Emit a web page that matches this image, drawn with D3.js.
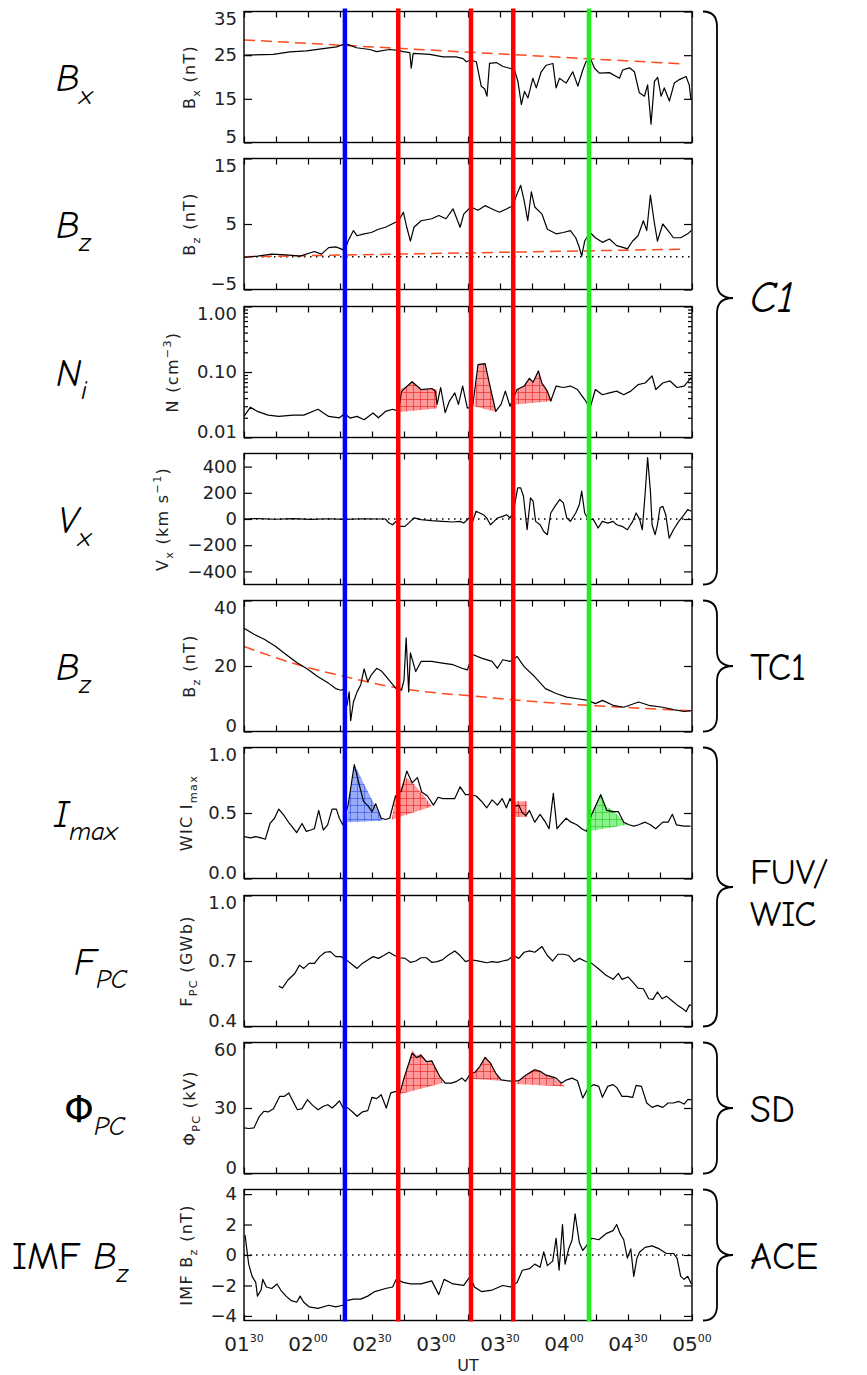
<!DOCTYPE html>
<meta charset="utf-8">
<script src="https://cdnjs.cloudflare.com/ajax/libs/d3/7.8.5/d3.min.js"></script>
<style>
  body { margin: 0; background: #fff; }
</style>
<div id="chart"></div>
<script>

  // time is in minutes after 01:30 UT
  const xTicks = d3.range(0, 211, 15)
  const xLabelAt = [0, 30, 60, 90, 120, 150, 180, 210]
  const xLabelHour = ['01', '02', '02', '03', '03', '04', '04', '05']
  const xLabelMin = ['30', '00', '30', '00', '30', '00', '30', '00']

  // onset times marked by the vertical lines
  const eventTimes = [47.3, 72.3, 106.4, 126.2, 161.7]
  const eventKinds = ['blue', 'red', 'red', 'red', 'green']

  // Cluster C1 Bx
  const bxC1 = [[0, 25.0], [13.7, 25.2], [21.5, 25.75], [29.3, 26.0], [37.1, 26.5], [43.4, 26.9], [47.3, 27.6],
    [49.6, 27.3], [52.7, 26.7], [59.0, 26.3], [62.1, 25.8], [68.3, 26.3], [72.2, 26.1], [74.6, 25.8], [77.7, 25.6],
    [78.4, 22.0], [79.3, 25.4], [87.1, 25.2], [93.3, 24.6], [99.5, 24.6], [102.7, 24.2], [104.2, 23.5], [106.2, 23.9],
    [108.9, 23.5], [111.2, 17.9], [112.8, 17.3], [113.9, 15.6], [115.1, 23.1], [118.3, 23.3], [121.4, 22.4],
    [124.5, 22.0], [126.8, 21.6], [128.4, 19.0], [130.0, 13.7], [131.5, 16.7], [133.1, 15.2], [135.4, 19.7],
    [137.0, 17.5], [139.3, 21.2], [141.7, 22.7], [144.8, 23.1], [146.3, 17.5], [147.9, 19.7], [151.0, 18.6],
    [154.1, 21.2], [156.5, 17.9], [158.8, 21.6], [160.4, 23.6], [162.7, 23.9], [164.3, 22.0], [166.6, 20.9],
    [171.3, 21.0], [176.0, 19.7], [177.5, 21.6], [180.7, 22.1], [183.0, 21.2], [185.3, 16.4], [187.7, 15.6],
    [189.2, 18.2], [190.8, 9.2], [192.4, 19.0], [193.9, 19.9], [195.5, 15.6], [197.0, 17.5], [199.4, 14.5],
    [201.7, 18.6], [204.1, 19.4], [207.2, 20.1], [208.7, 18.2], [209.5, 14.8]]
  const bxC1Fit = [[0, 28.5], [205.6, 23.0]]

  // Cluster C1 Bz
  const bzC1 = [[0, -0.1], [6.3, 0.1], [13, 0.4], [19.7, 0.3], [26.3, 0.1], [33, 0.8], [36.3, 0.4], [39.7, 1.4],
    [43, 1.5], [45.5, 1.2], [47.2, 0.9], [48.8, 2.4], [51.3, 4.0], [53, 3.2], [56.3, 3.5], [59.7, 3.7], [63, 4.2],
    [66.3, 4.5], [71.3, 5.3], [72.5, 5.5], [74.7, 6.8], [76.3, 4.5], [78, 2.4], [79.7, 4.5], [83, 5.5], [88, 5.8],
    [91.3, 6.3], [94.7, 5.8], [98, 7.3], [101.3, 4.5], [103, 6.5], [106.3, 7.6], [109.7, 7.1], [113, 7.8],
    [116.3, 7.3], [119.7, 6.8], [123, 7.3], [126, 7.8], [128, 9.6], [129.7, 10.9], [131.3, 8.6], [133, 5.5],
    [134.7, 9.9], [136.3, 7.6], [139.7, 6.5], [142.2, 4.2], [146.3, 3.5], [149.7, 3.7], [153, 4.0], [155.5, 2.9],
    [157.2, 1.4], [158.3, 0.1], [159.7, 2.4], [162.2, 3.7], [164.7, 2.9], [168, 2.2], [171.3, 2.7], [174.7, 1.7],
    [178, 1.4], [179.7, 1.2], [182.2, 2.4], [184.7, 3.2], [187.2, 5.5], [188.8, 4.0], [190.5, 9.4], [192.2, 5.5],
    [193.8, 2.4], [196.3, 5.0], [198.8, 4.0], [201.3, 2.9], [204.7, 2.9], [208, 3.5], [209.7, 4.0]]
  const bzC1Fit = [[0, 0], [205.5, 1.15]]

  // Cluster C1 ion density
  const nC1 = [[0, 0.021], [3, 0.029], [6.3, 0.025], [11.3, 0.022], [16.3, 0.021], [23, 0.022], [28, 0.022],
    [34.7, 0.027], [39.7, 0.021], [44.7, 0.020], [47.2, 0.023], [49.7, 0.0198], [53, 0.021], [56.3, 0.0187],
    [60.5, 0.0237], [63, 0.020], [66.3, 0.025], [69.7, 0.027], [72.5, 0.025], [73.8, 0.050], [74.7, 0.054],
    [78.8, 0.071], [83, 0.054], [88, 0.056], [89.7, 0.051], [90.5, 0.032], [92.2, 0.058], [94.3, 0.024],
    [96.3, 0.036], [98.8, 0.048], [100.5, 0.032], [102.5, 0.061], [104.7, 0.028], [107.2, 0.030], [109.7, 0.13],
    [113, 0.134], [115.5, 0.057], [118, 0.025], [120.5, 0.032], [122.5, 0.051], [124.7, 0.030], [128, 0.054],
    [131.3, 0.061], [133.8, 0.080], [135.5, 0.070], [138, 0.104], [139.7, 0.067], [142.2, 0.051], [143.8, 0.036],
    [146.3, 0.061], [149.7, 0.058], [153, 0.061], [156.3, 0.054], [159.7, 0.038], [162.2, 0.028], [164.7, 0.054],
    [168, 0.045], [171.3, 0.048], [174.7, 0.051], [178, 0.045], [181.3, 0.051], [184.7, 0.064], [188, 0.068],
    [191.3, 0.087], [193, 0.054], [196.3, 0.068], [199.7, 0.073], [203, 0.058], [206.3, 0.061], [209.7, 0.082]]
  const nShade = [
    [[73, 0.0245], [73.5, 0.056], [76, 0.058], [78.8, 0.071], [83, 0.054], [88, 0.056], [90.5, 0.054], [90.5, 0.0276]],
    [[108, 0.030], [109.7, 0.134], [113, 0.134], [115.5, 0.057], [118.3, 0.0245]],
    [[127.2, 0.032], [128, 0.054], [131.3, 0.061], [133.8, 0.080], [135.5, 0.070], [138, 0.104], [139.7, 0.068],
      [142.2, 0.051], [144.7, 0.036]]
  ]

  // Cluster C1 Vx
  const vxC1 = [[0, 0], [6.3, 3], [14.7, -2], [23, 3], [31.3, -3], [39.7, 2], [47.2, -3], [56.3, 2], [63, 0],
    [66.3, 0], [68, -31], [69.7, -44], [71.3, -18], [73, -56], [75.5, -56], [78, -18], [79.7, 8], [83, -5],
    [88, -13], [93, -18], [98, -23], [101.3, -18], [103, -31], [105.5, 8], [107.2, -18], [108.8, 59], [110.5, 46],
    [112.2, 33], [113.8, 8], [115.5, -44], [117.2, -18], [118.8, 8], [121.3, 20], [123, 33], [124.7, 8],
    [126.3, 59], [128.3, 238], [129.7, 238], [131, 174], [132.7, -82], [134.3, 162], [135.5, 136], [136.7, -18],
    [138.8, -44], [140.5, -95], [142.2, -120], [143.8, 46], [146.3, 110], [148, 149], [149.7, 123], [151.3, 8],
    [153, -18], [155.5, 46], [157.2, 110], [158.3, 213], [159.7, 46], [161.3, 0], [163.8, -5], [166, -69],
    [168, -18], [170.5, -31], [173, -18], [174.7, -44], [177.2, -56], [179.7, -82], [182.2, -18], [183.8, 46],
    [185.5, -5], [186.7, -82], [188, 187], [189.2, 469], [190.5, 213], [191.3, -44], [192.7, -120], [193.8, -44],
    [195, 85], [196.3, 97], [197.7, 33], [199.3, -146], [201.3, -82], [203.8, -18], [206.3, 33], [208, 72],
    [209.7, 59]]

  // TC1 Bz
  const bzTC1 = [[0, 31.5], [4.7, 29.7], [9.7, 28.1], [14.7, 26.0], [19.7, 23.5], [24.7, 21.1], [29.7, 19.1],
    [34.7, 16.7], [39.7, 14.7], [43, 13.1], [45.5, 12.6], [47.2, 13.1], [48.3, 8.0], [49.3, 12.1], [50, 3.3],
    [51.3, 9.0], [53, 12.1], [54.7, 14.2], [56.3, 19.1], [58, 15.2], [59.7, 17.3], [62.2, 19.3], [64.7, 18.3],
    [68, 15.7], [71.3, 13.1], [73.8, 12.6], [75, 15.7], [76, 28.6], [77.2, 12.1], [78, 24.0], [80.5, 18.3],
    [83, 21.4], [88, 21.4], [93, 20.9], [98, 20.4], [102.2, 19.3], [104.7, 18.8], [107.2, 23.5], [111.3, 22.4],
    [116.3, 21.4], [118.8, 19.3], [121.3, 21.9], [124.7, 21.4], [128, 22.9], [131.3, 19.8], [136.3, 16.7],
    [141.3, 13.1], [146.3, 11.6], [151.3, 10.5], [156.3, 10.0], [161.3, 9.5], [164.7, 8.5], [168, 9.5], [173, 8.0],
    [178, 7.4], [185, 9.0], [189.7, 8.0], [196.3, 7.4], [201.3, 6.7], [206.3, 6.1], [209.7, 6.4]]
  const bzTC1Fit = [[0, 26.0], [15, 22.5], [30, 19.5], [47, 16.8], [60, 14.8], [75, 13.0], [90, 11.8],
    [106, 10.9], [126, 9.7], [145, 8.7], [161, 8.0], [180, 7.3], [195, 6.8], [210, 6.3]]

  // FUV/WIC maximum intensity
  const wicImax = [[0, 0.32], [3, 0.31], [5.5, 0.32], [8, 0.31], [10, 0.30], [12.2, 0.42], [14.3, 0.46],
    [16.3, 0.53], [18.8, 0.48], [21.3, 0.42], [24.7, 0.35], [27.2, 0.42], [29.2, 0.36], [31.3, 0.37], [33, 0.38],
    [35, 0.52], [37.2, 0.37], [39.2, 0.41], [41.3, 0.53], [43.3, 0.53], [44.7, 0.46], [46.3, 0.41], [48.8, 0.56],
    [51.7, 0.87], [53.8, 0.73], [56, 0.59], [58.3, 0.55], [60, 0.51], [61.7, 0.57], [64.3, 0.46], [66.3, 0.45],
    [68.3, 0.46], [71, 0.63], [73.8, 0.67], [76.3, 0.82], [78.8, 0.73], [81.3, 0.77], [83.3, 0.66], [86, 0.63],
    [88.8, 0.56], [91, 0.62], [93.3, 0.61], [96, 0.61], [98.8, 0.61], [101.3, 0.70], [103.8, 0.64], [106, 0.64],
    [108.8, 0.63], [111.3, 0.59], [113.8, 0.54], [116.3, 0.60], [118.8, 0.56], [121, 0.61], [123, 0.54],
    [124.7, 0.61], [126.7, 0.55], [128.8, 0.56], [130.5, 0.50], [132.2, 0.48], [133.8, 0.52], [136.3, 0.43],
    [138.8, 0.49], [141.3, 0.43], [143, 0.38], [145, 0.65], [146.7, 0.38], [148.8, 0.42], [151, 0.46],
    [153.3, 0.43], [156, 0.41], [158.3, 0.38], [160.5, 0.36], [163, 0.49], [167.2, 0.64], [170, 0.52],
    [173, 0.51], [175.5, 0.51], [178, 0.43], [180.5, 0.41], [182.7, 0.40], [185, 0.41], [188, 0.43],
    [190.5, 0.41], [193, 0.38], [196.3, 0.43], [198.8, 0.43], [200.8, 0.49], [202.7, 0.41], [206.3, 0.40],
    [209.3, 0.40]]
  const wicShade = [
    [[48.3, 0.43], [49, 0.56], [51.7, 0.87], [61.3, 0.56], [65, 0.44]],
    [[69.3, 0.45], [71, 0.63], [76.3, 0.77], [79.7, 0.72], [84, 0.64], [88, 0.55]],
    [[126.7, 0.59], [132.7, 0.59], [132.7, 0.47], [126.7, 0.47]],
    [[161.7, 0.36], [163, 0.49], [167.2, 0.65], [170, 0.55], [173, 0.52], [179.7, 0.41]]
  ]
  const wicShadeKinds = ['blue', 'red', 'red', 'green']

  // polar cap flux
  const fpc = [[16.3, 0.585], [18, 0.576], [20.5, 0.612], [23.8, 0.643], [26, 0.681], [28, 0.666], [30.5, 0.689],
    [33, 0.689], [35.5, 0.720], [38, 0.740], [40.5, 0.743], [43, 0.720], [45.5, 0.720], [48, 0.705], [50.5, 0.685],
    [53, 0.666], [55.5, 0.689], [58, 0.705], [60.5, 0.720], [63, 0.712], [65.5, 0.725], [68, 0.740], [70.5, 0.725],
    [73, 0.715], [75.5, 0.712], [78, 0.694], [80.5, 0.700], [83, 0.715], [85.5, 0.715], [88, 0.694], [90.5, 0.697],
    [93, 0.705], [95.5, 0.725], [98.8, 0.746], [101.3, 0.725], [103.8, 0.697], [106.3, 0.705], [108.8, 0.702],
    [111.3, 0.697], [113.8, 0.692], [116.3, 0.697], [118.8, 0.694], [121.3, 0.700], [123.8, 0.705], [126.3, 0.725],
    [128.8, 0.712], [131.3, 0.740], [133.8, 0.746], [136.3, 0.740], [139.7, 0.766], [142.2, 0.725], [144.7, 0.700],
    [147.2, 0.731], [149.7, 0.731], [152.2, 0.725], [154.7, 0.697], [157.2, 0.712], [159.7, 0.700], [163, 0.689],
    [166.3, 0.663], [169.7, 0.635], [173, 0.616], [175.5, 0.643], [177.2, 0.616], [180, 0.627], [182.2, 0.604],
    [184.7, 0.576], [187.2, 0.573], [189.7, 0.527], [191.7, 0.524], [193.8, 0.558], [196, 0.527], [198, 0.539],
    [200.5, 0.519], [203, 0.499], [205.5, 0.483], [207.2, 0.468], [208.8, 0.499], [209.7, 0.496]]

  // SuperDARN cross polar cap potential
  const phiPC = [[0, 20.9], [2.2, 20.6], [4.7, 20.9], [7.2, 26.2], [9.3, 28.5], [11.3, 28.2], [13.8, 29.7],
    [16.7, 35.3], [18.8, 35.3], [21, 36.9], [23, 33.0], [25, 29.2], [27.2, 29.7], [29.7, 33.8], [32.2, 31.2],
    [34.7, 29.2], [37.2, 30.8], [39.3, 31.5], [41.3, 30.0], [43, 31.5], [44.7, 33.3], [46.3, 30.3], [48.3, 30.3],
    [50.5, 28.5], [53, 26.2], [55.5, 28.2], [58, 28.8], [60, 34.9], [62.2, 34.3], [64.3, 36.1], [66.7, 30.0],
    [68.8, 36.9], [71.3, 37.6], [73, 36.4], [75, 43.7], [78.8, 55.1], [81, 53.1], [83, 54.1], [85.5, 51.3],
    [88, 51.6], [89.7, 48.3], [91.7, 44.5], [94.3, 41.4], [97.2, 41.4], [99.7, 42.2], [102.2, 43.7], [103.8, 42.2],
    [106, 45.5], [108.3, 46.4], [110.5, 49.0], [113, 53.1], [115.5, 50.6], [118, 46.0], [120.5, 42.9], [123, 42.5],
    [126, 42.2], [128.8, 42.5], [131.3, 44.5], [133.8, 46.0], [136.3, 47.5], [138.8, 46.8], [141.3, 45.2],
    [143.8, 44.5], [146.3, 43.7], [148.8, 41.4], [151.3, 42.9], [153.8, 43.7], [156.3, 42.5], [158.8, 34.6],
    [161.3, 39.1], [163.8, 40.7], [166.3, 39.9], [168, 34.9], [170.5, 39.9], [173, 40.7], [174.7, 39.4],
    [177.2, 35.3], [179.7, 35.3], [182.2, 34.9], [183.8, 40.4], [186.3, 39.9], [188.8, 32.3], [191.3, 30.3],
    [193.8, 31.2], [196.3, 30.3], [198.8, 32.3], [201.3, 32.3], [203.8, 33.0], [206.3, 31.8], [208, 33.8],
    [209.7, 33.8]]
  const phiShade = [
    [[73.5, 36.4], [75, 43.7], [78.8, 56.5], [81, 54.0], [83, 54.8], [85.5, 51.3], [88, 51.6], [89.7, 48.3],
      [91.7, 44.5], [93.3, 41.4]],
    [[106, 43.4], [108.3, 46.4], [110.5, 49.0], [113, 53.8], [115.5, 50.6], [118, 46.0], [120.5, 42.5]],
    [[127.2, 41.0], [131.3, 44.5], [133.8, 46.5], [136.3, 48.0], [138.8, 46.8], [141.3, 45.2], [143.8, 44.5],
      [146.3, 43.0], [150.5, 39.9]]
  ]

  // ACE IMF Bz
  const imfBz = [[0.5, 1.3], [1.3, 0.4], [2.2, -0.6], [3.8, -1.4], [5.5, -1.8], [6.3, -2.7], [8, -2.3],
    [8.8, -1.6], [10.5, -2.1], [13, -2.2], [15.5, -1.9], [17.2, -2.3], [19.7, -2.7], [22.2, -3.0], [24.7, -3.1],
    [26.3, -2.7], [28, -3.1], [30.5, -3.4], [34.7, -3.5], [39.7, -3.3], [43, -3.4], [46.3, -3.3], [48, -3.0],
    [51.3, -2.9], [54.7, -2.9], [58, -2.7], [61.3, -2.4], [66.3, -2.2], [69.7, -2.1], [71.3, -1.6], [74.7, -1.8],
    [78, -1.9], [83, -1.9], [88, -1.7], [91.3, -2.6], [93.8, -1.6], [98, -1.9], [103, -2.0], [106, -1.4],
    [108, -2.1], [111.3, -2.4], [116.3, -2.3], [121.3, -2.0], [124.7, -2.1], [128, -1.8], [130.5, -1.0],
    [133.8, -0.9], [136.3, -0.6], [138.8, -0.8], [140.5, 0.2], [142.2, -0.7], [144.7, -0.4], [146.3, 1.1],
    [147.7, -1.0], [149.3, 2.0], [150.5, -0.6], [152.2, 0.4], [153.8, 1.0], [155.2, 2.7], [157.2, 0.8],
    [158.8, 0.3], [160.5, 0.6], [163, 1.1], [166.3, 1.0], [169.7, 1.4], [173, 1.6], [174.7, 2.0], [176.3, 1.4],
    [178, 1.0], [179.7, -0.2], [181.3, 0.4], [182.7, -1.4], [184.2, -0.2], [185.5, 0.2], [188, 0.5], [191.3, 0.6],
    [194.7, 0.4], [198, 0.1], [201.3, 0.1], [203, -0.2], [204.7, -1.4], [206.3, -1.6], [208, -1.4], [209.7, -1.9]]

  // panel set-up, top to bottom
  const panels = [
    { data: bxC1, fit: bxC1Fit, domain: [5, 35], ticks: [5, 15, 25, 35], fmt: d3.format('d'),
      title: [['B'], ['x', 'sub'], [' (nT)']], titleX: 195,
      name: [['B', '', 'italic'], ['x', 'sub', 'italic']], nameX: 56 },
    { data: bzC1, fit: bzC1Fit, zero: true, domain: [-5, 15], ticks: [-5, 5, 15], fmt: d3.format('d'),
      title: [['B'], ['z', 'sub'], [' (nT)']], titleX: 195,
      name: [['B', '', 'italic'], ['z', 'sub', 'italic']], nameX: 56 },
    { data: nC1, shade: nShade, log: true, domain: [0.01, 1], ticks: [0.01, 0.1, 1], fmt: d3.format('.2f'),
      title: [['N (cm'], ['\u22123', 'sup'], [')']], titleX: 178,
      name: [['N', '', 'italic'], ['i', 'sub', 'italic']], nameX: 56 },
    { data: vxC1, zero: true, domain: [-500, 500], ticks: [-400, -200, 0, 200, 400], fmt: d3.format('d'),
      title: [['V'], ['x', 'sub'], [' (km s'], ['\u22121', 'sup'], [')']], titleX: 168,
      name: [['V', '', 'italic'], ['x', 'sub', 'italic']], nameX: 58 },
    { data: bzTC1, fit: bzTC1Fit, domain: [0, 40], ticks: [0, 20, 40], fmt: d3.format('d'),
      title: [['B'], ['z', 'sub'], [' (nT)']], titleX: 195,
      name: [['B', '', 'italic'], ['z', 'sub', 'italic']], nameX: 56 },
    { data: wicImax, shade: wicShade, shadeKinds: wicShadeKinds, domain: [0, 1], ticks: [0, 0.5, 1], fmt: d3.format('.1f'),
      title: [['WIC I'], ['max', 'sub']], titleX: 192,
      name: [['I', '', 'italic'], ['max', 'sub', 'italic']], nameX: 54 },
    { data: fpc, domain: [0.4, 1], ticks: [0.4, 0.7, 1], fmt: d3.format('.1f'),
      title: [['F'], ['PC', 'sub'], [' (GWb)']], titleX: 192,
      name: [['F', '', 'italic'], ['PC', 'sub', 'italic']], nameX: 74 },
    { data: phiPC, shade: phiShade, domain: [0, 60], ticks: [0, 30, 60], fmt: d3.format('d'),
      title: [['\u03a6'], ['PC', 'sub'], [' (kV)']], titleX: 195,
      name: [['\u03a6', '', ''], ['PC', 'sub', 'italic']], nameX: 64 },
    { data: imfBz, zero: true, domain: [-4.3, 4.3], ticks: [-4, -2, 0, 2, 4], fmt: d3.format('d'),
      title: [['IMF B'], ['z', 'sub'], [' (nT)']], titleX: 192,
      name: [['IMF ', '', ''], ['B', '', 'italic'], ['z', 'sub', 'italic']], nameX: 12 }
  ]

  // right-hand groupings: first and last panel index
  const groups = [
    { label: ['C1'], from: 0, to: 3 },
    { label: ['TC1'], from: 4, to: 4 },
    { label: ['FUV/', 'WIC'], from: 5, to: 6 },
    { label: ['SD'], from: 7, to: 7 },
    { label: ['ACE'], from: 8, to: 8 }
  ]

  const colors = { blue: '#0000ff', red: '#ff0000', green: '#20ec20' }
  const fitColor = '#ff4a1e'
  const labelFont = "'Comic Sans MS', 'Comic Neue', 'DejaVu Sans', sans-serif"

  const width = 867
  const height = 1375
  const panelH = 131
  const panelTop = i => Math.round(11 + i * 147.25) + 0.5

  const x = d3.scaleLinear().domain([0, 210]).range([244, 692])

  const svg = d3.select('#chart').append('svg')
    .attr('width', width)
    .attr('height', height)
    .style('font-family', "'DejaVu Sans', sans-serif")
  const defs = svg.append('defs')

  // hatched fills
  const hatch = { red: ['#ff7f7f', '#e00000'], blue: ['#7d96f7', '#1838e0'], green: ['#6ff06f', '#10b810'] }
  Object.entries(hatch).forEach(([k, [bg, ln]]) => {
    const pat = defs.append('pattern').attr('id', 'hatch-' + k)
      .attr('width', 7).attr('height', 7).attr('patternUnits', 'userSpaceOnUse')
    pat.append('rect').attr('width', 7).attr('height', 7).attr('fill', bg).attr('opacity', 0.8)
    pat.append('path').attr('d', 'M0,0.5H7M0.5,0V7').attr('stroke', ln).attr('stroke-width', 0.7).attr('opacity', 0.7)
  })

  // text with sub/superscript parts
  function richText(sel, parts, size, subDrop) {
    let shift = 0
    parts.forEach(([t, pos, style]) => {
      const target = pos === 'sub' ? size * (subDrop || 0.3) : pos === 'sup' ? -size * 0.42 : 0
      sel.append('tspan').text(t)
        .attr('dy', target - shift)
        .attr('font-size', pos ? size * 0.7 : size)
        .attr('font-style', style || null)
      shift = target
    })
  }

  panels.forEach((p, i) => {
    const top = panelTop(i)
    const bot = top + panelH
    const y = (p.log ? d3.scaleLog() : d3.scaleLinear()).domain(p.domain).range([bot, top])
    const line = d3.line().x(d => x(d[0])).y(d => y(d[1]))
    const g = svg.append('g')

    defs.append('clipPath').attr('id', 'clip' + i).append('rect')
      .attr('x', x.range()[0]).attr('y', top).attr('width', x.range()[1] - x.range()[0]).attr('height', panelH)
    const plot = g.append('g').attr('clip-path', 'url(#clip' + i + ')')

    if (p.shade) {
      p.shade.forEach((poly, k) => {
        const kind = p.shadeKinds ? p.shadeKinds[k] : 'red'
        plot.append('path').attr('d', line(poly) + 'Z').attr('fill', 'url(#hatch-' + kind + ')')
      })
    }
    if (p.zero) {
      plot.append('line').attr('x1', x.range()[0]).attr('x2', x.range()[1])
        .attr('y1', y(0)).attr('y2', y(0))
        .attr('stroke', '#000').attr('stroke-width', 1.3).attr('stroke-dasharray', '1.5,4.5')
    }
    if (p.fit) {
      plot.append('path').datum(p.fit).attr('d', line.curve(d3.curveMonotoneX))
        .attr('fill', 'none').attr('stroke', fitColor).attr('stroke-width', 1.5).attr('stroke-dasharray', '11,6')
      line.curve(d3.curveLinear)
    }
    plot.append('path').datum(p.data).attr('d', line)
      .attr('fill', 'none').attr('stroke', '#000').attr('stroke-width', 1.2).attr('stroke-linejoin', 'round')

    // axes: ticks inside on all four sides
    const [dmin, dmax] = p.domain
    const ay = g.append('g').attr('transform', 'translate(' + x.range()[0] + ',0)')
      .call(d3.axisLeft(y).tickValues(p.ticks).tickSize(-8).tickSizeOuter(0).tickPadding(7).tickFormat(p.fmt))
    ay.selectAll('.tick text')
      .attr('transform', d => d === dmax ? 'translate(0,7)' : d === dmin ? 'translate(0,-6)' : null)
    g.append('g').attr('transform', 'translate(' + x.range()[1] + ',0)')
      .call(d3.axisRight(y).tickValues(p.ticks).tickSize(-8).tickSizeOuter(0).tickFormat(''))
    if (p.log) {
      const minor = [2, 3, 4, 5, 6, 7, 8, 9].flatMap(m => [m * 0.01, m * 0.1])
      g.append('g').attr('transform', 'translate(' + x.range()[0] + ',0)')
        .call(d3.axisLeft(y).tickValues(minor).tickSize(-4).tickSizeOuter(0).tickFormat(''))
      g.append('g').attr('transform', 'translate(' + x.range()[1] + ',0)')
        .call(d3.axisRight(y).tickValues(minor).tickSize(-4).tickSizeOuter(0).tickFormat(''))
    }
    g.append('g').attr('transform', 'translate(0,' + top + ')')
      .call(d3.axisTop(x).tickValues(xTicks).tickSize(-6).tickSizeOuter(0).tickFormat(''))
    g.append('g').attr('transform', 'translate(0,' + bot + ')')
      .call(d3.axisBottom(x).tickValues(xTicks).tickSize(-6).tickSizeOuter(0).tickFormat(''))
    g.selectAll('.domain').remove()
    g.selectAll('.tick line').attr('stroke-width', 1.2)
    g.selectAll('.tick text').attr('font-size', 18).attr('font-family', "'DejaVu Sans', sans-serif").attr('fill', '#222')

    g.append('rect').attr('x', x.range()[0]).attr('y', top)
      .attr('width', x.range()[1] - x.range()[0]).attr('height', panelH)
      .attr('fill', 'none').attr('stroke', '#000').attr('stroke-width', 1.4)

    // rotated axis title
    const t = g.append('text')
      .attr('transform', 'translate(' + p.titleX + ',' + (top + panelH / 2) + ') rotate(-90)')
      .attr('text-anchor', 'middle').attr('fill', '#222').attr('letter-spacing', 1.3)
    richText(t, p.title, 16)

    // big panel name on the left
    const n = g.append('text').attr('x', p.nameX).attr('y', top + panelH / 2 + 14)
      .attr('font-family', labelFont).attr('fill', '#000')
    richText(n, p.name, 38, 0.33)
  })

  // time labels under the bottom panel
  const bottom = panelTop(panels.length - 1) + panelH
  xLabelAt.forEach((m, k) => {
    const t = svg.append('text').attr('x', x(m)).attr('y', bottom + 30)
      .attr('text-anchor', 'middle').attr('fill', '#222')
    t.append('tspan').text(xLabelHour[k]).attr('font-size', 20)
    t.append('tspan').text(xLabelMin[k]).attr('font-size', 11).attr('dy', -9)
  })
  svg.append('text').attr('x', (x.range()[0] + x.range()[1]) / 2).attr('y', bottom + 50)
    .attr('text-anchor', 'middle').attr('font-size', 16).attr('fill', '#222').text('UT')

  // onset lines across all panels
  eventTimes.forEach((tm, k) => {
    svg.append('line').attr('x1', x(tm)).attr('x2', x(tm))
      .attr('y1', panelTop(0) - 3).attr('y2', bottom + 1)
      .attr('stroke', colors[eventKinds[k]]).attr('stroke-width', 4.5)
  })

  // curly braces and instrument labels
  function brace(y0, y1) {
    const ym = (y0 + y1) / 2
    const xa = 703, xb = 717, xt = 733, r = 15
    return `M${xa},${y0} Q${xb},${y0} ${xb},${y0 + r} L${xb},${ym - r} Q${xb},${ym} ${xt},${ym}` +
      ` Q${xb},${ym} ${xb},${ym + r} L${xb},${y1 - r} Q${xb},${y1} ${xa},${y1}`
  }
  groups.forEach(gr => {
    const y0 = panelTop(gr.from)
    const y1 = panelTop(gr.to) + panelH
    const ym = (y0 + y1) / 2
    svg.append('path').attr('d', brace(y0, y1))
      .attr('fill', 'none').attr('stroke', '#000').attr('stroke-width', 1.8)
    const big = gr.label[0] === 'C1'
    const two = gr.label.length > 1
    gr.label.forEach((s, k) => {
      svg.append('text').attr('x', 750)
        .attr('y', ym + (two ? -3 + k * 42 : 14))
        .attr('font-family', labelFont).attr('font-size', big ? 44 : two ? 36 : 38)
        .attr('font-style', big ? 'italic' : null)
        .text(s)
    })
  })

</script>
